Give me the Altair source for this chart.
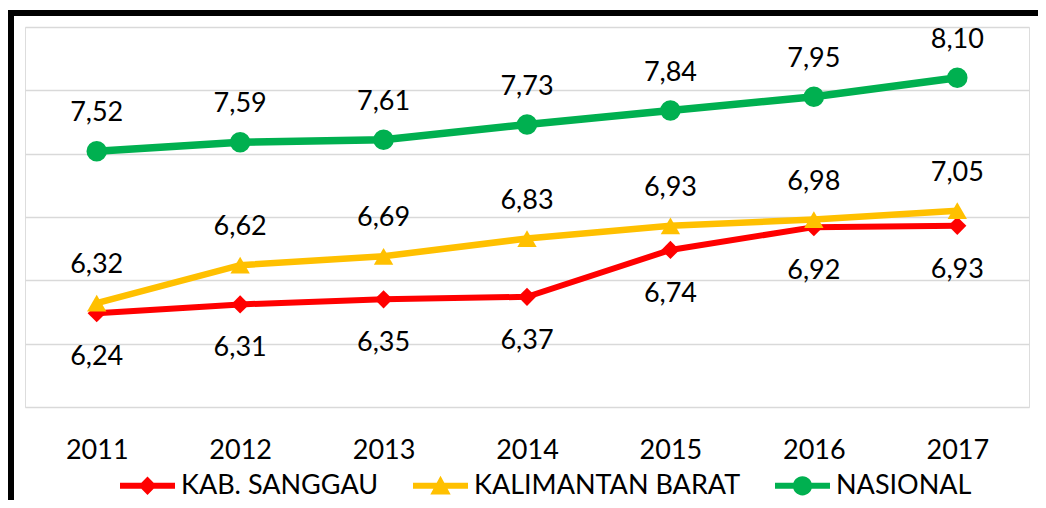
import altair as alt
import pandas as pd

years = ["2011", "2012", "2013", "2014", "2015", "2016", "2017"]
sanggau = [6.24, 6.31, 6.35, 6.37, 6.74, 6.92, 6.93]
kalbar = [6.32, 6.62, 6.69, 6.83, 6.93, 6.98, 7.05]
nasional = [7.52, 7.59, 7.61, 7.73, 7.84, 7.95, 8.10]
series_names = ["KAB. SANGGAU", "KALIMANTAN BARAT", "NASIONAL"]
colors = ["#FF0000", "#FFC000", "#00B050"]
grid_values = [5.5, 6.0, 6.5, 7.0, 7.5, 8.0, 8.5]

rows = []
for name, vals in zip(series_names, [sanggau, kalbar, nasional]):
    for yr, v in zip(years, vals):
        rows.append({"year": yr, "value": v, "series": name})
df = pd.DataFrame(rows)

FONT = "Lato"

x = alt.X("year:O", scale=alt.Scale(type="point", padding=0.5),
          axis=alt.Axis(title=None, labelAngle=0, ticks=False, domain=False, grid=False,
                        labelFont=FONT, labelFontSize=27, labelColor="black", labelPadding=30))
y = alt.Y("value:Q", scale=alt.Scale(domain=[5.5, 8.5], nice=False, zero=False),
          axis=alt.Axis(title=None, labels=False, ticks=False, domain=False, values=grid_values,
                        gridColor="#d9d9d9", gridWidth=1.5))

base = alt.Chart(df)

line_layers = []
for name, col, sw in zip(series_names, colors, [6, 6.5, 7.5]):
    line_layers.append(
        base.transform_filter(alt.datum.series == name).mark_line(color=col, strokeWidth=sw).encode(x=x, y=y)
    )

points = base.mark_point(filled=True, opacity=1).encode(
    x=x, y=y,
    color=alt.Color("series:N", scale=alt.Scale(domain=series_names, range=colors), legend=None),
    shape=alt.Shape("series:N", scale=alt.Scale(domain=series_names, range=["diamond", "triangle-up", "circle"]), legend=None),
    size=alt.Size("series:N", scale=alt.Scale(domain=series_names, range=[330, 420, 361]), legend=None),
)

label_calc = "replace(format(datum.value, '.2f'), '.', ',')"
labels_above = base.transform_calculate(label=label_calc).transform_filter(
    "datum.series != 'KAB. SANGGAU'"
).mark_text(dy=-38, font=FONT, fontSize=27, color="black").encode(x=x, y=y, text="label:N")
labels_below = base.transform_calculate(label=label_calc).transform_filter(
    "datum.series == 'KAB. SANGGAU'"
).mark_text(dy=44, font=FONT, fontSize=27, color="black").encode(x=x, y=y, text="label:N")

legend_paths = [
    "M-1,-0.11H1V0.11H-1Z M0,-0.34L0.33,0L0,0.34L-0.33,0Z",
    "M-1,-0.11H1V0.11H-1Z M0,-0.36L0.37,0.32L-0.37,0.32Z",
    "M-1,-0.11H1V0.11H-1Z M-0.35,0A0.35,0.35 0 1,1 0.35,0A0.35,0.35 0 1,1 -0.35,0Z",
]
leg = alt.Legend(title=None, orient="none", legendX=95, legendY=431, direction="horizontal",
                 symbolSize=3025, symbolStrokeWidth=0, symbolOpacity=1,
                 labelFont=FONT, labelFontSize=27, labelColor="black", labelOffset=6,
                 columnPadding=34, padding=0, labelLimit=400)

legend_layer = base.transform_filter("false").mark_point(filled=True).encode(
    x=x, y=y,
    color=alt.Color("series:N", scale=alt.Scale(domain=series_names, range=colors), legend=leg),
    shape=alt.Shape("series:N", scale=alt.Scale(domain=series_names, range=legend_paths), legend=leg),
)

frame = alt.Chart(pd.DataFrame({"k": [0]})).mark_rect(filled=False, stroke="black", strokeWidth=6).encode(
    x=alt.value(-14), y=alt.value(-14), x2=alt.value(1100), y2=alt.value(600)
)

chart = alt.layer(*line_layers, points, labels_above, labels_below, legend_layer, frame).resolve_scale(
    shape="independent", color="independent"
).properties(
    width=1004, height=380,
    autosize=alt.AutoSizeParams(type="none"),
    padding={"left": 17, "top": 19, "right": 9, "bottom": 93},
).configure_view(strokeWidth=0).configure(background="white")

chart.save("out.html", embed_options={"renderer": "svg", "actions": False})
